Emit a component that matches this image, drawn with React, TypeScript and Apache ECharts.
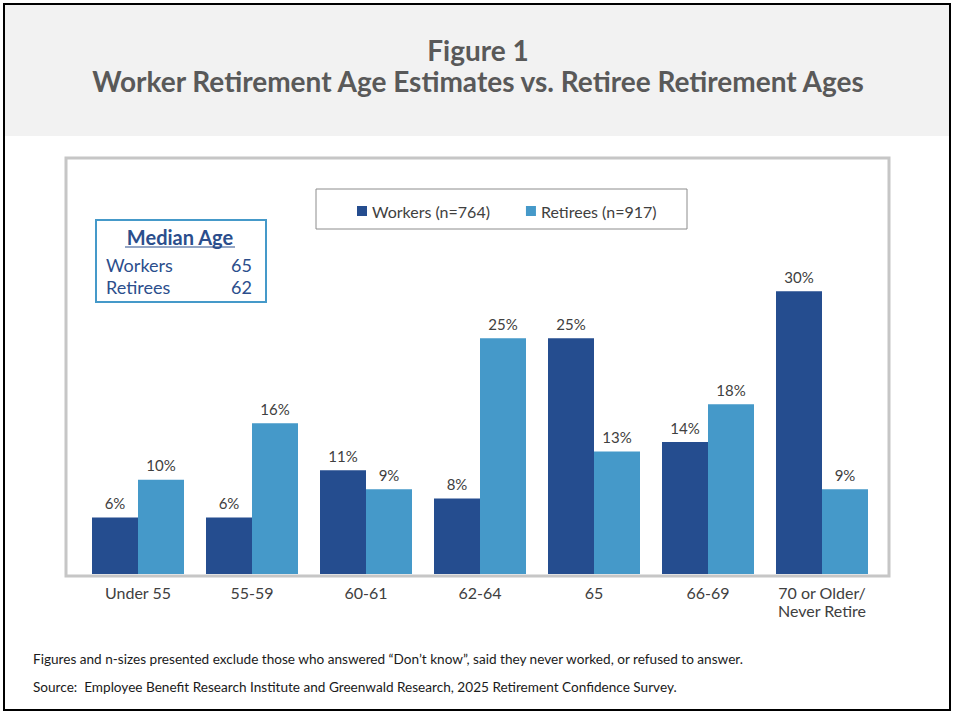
import React, { useEffect, useRef } from 'react';
import * as echarts from 'echarts';

const categories = ['Under 55', '55-59', '60-61', '62-64', '65', '66-69', '70 or Older/\nNever Retire'];
const workers = [6, 6, 11, 8, 25, 14, 30];
const retirees = [10, 16, 9, 25, 13, 18, 9];
const seriesNames = ['Workers (n=764)', 'Retirees (n=917)'];
const medianRows = [
  { label: 'Workers', age: 65 },
  { label: 'Retirees', age: 62 }
];

const FONT = 'Lato, "Open Sans", sans-serif';
const DARK = '#254d8f';
const LIGHT = '#4599c9';
const TEXT = '#404040';

const App = () => {
  const chartRef = useRef<HTMLDivElement | null>(null);

  useEffect(() => {
    if (!chartRef.current) return;
    const chart = echarts.init(chartRef.current, null, { renderer: 'svg' });

    const option = {
      animation: false,
      textStyle: { fontFamily: FONT },
      grid: { left: 81, right: 77, top: 244, bottom: 142 },
      legend: {
        data: seriesNames,
        left: 352,
        top: 198,
        icon: 'rect',
        itemWidth: 10,
        itemHeight: 10,
        itemGap: 36,
        textStyle: { color: TEXT, fontSize: 16, fontFamily: FONT }
      },
      xAxis: {
        type: 'category',
        data: categories,
        axisLine: { show: false },
        axisTick: { show: false },
        axisLabel: {
          color: TEXT,
          fontSize: 16,
          lineHeight: 18,
          margin: 9,
          interval: 0,
          fontFamily: FONT
        }
      },
      yAxis: {
        type: 'value',
        min: 0,
        max: 35,
        show: false,
        splitLine: { show: false }
      },
      series: [
        {
          name: seriesNames[0],
          type: 'bar',
          data: workers,
          barWidth: 46,
          barGap: '0%',
          itemStyle: { color: DARK },
          label: {
            show: true,
            position: 'top',
            distance: 7,
            formatter: '{c}%',
            color: TEXT,
            fontSize: 15,
            fontFamily: FONT
          }
        },
        {
          name: seriesNames[1],
          type: 'bar',
          data: retirees,
          barWidth: 46,
          barGap: '0%',
          itemStyle: { color: LIGHT },
          label: {
            show: true,
            position: 'top',
            distance: 7,
            formatter: '{c}%',
            color: TEXT,
            fontSize: 15,
            fontFamily: FONT
          }
        }
      ],
      graphic: [
        // header band
        {
          type: 'rect',
          z: -10,
          shape: { x: 5, y: 5, width: 945, height: 131 },
          style: { fill: '#f2f2f2' }
        },
        {
          type: 'rect',
          z: 10,
          shape: { x: 4, y: 4, width: 946, height: 706 },
          style: { fill: 'none', stroke: '#000', lineWidth: 2 }
        },
        {
          type: 'text',
          x: 478,
          y: 50,
          style: {
            text: 'Figure 1',
            fill: '#595959',
            font: `bold 28px ${FONT}`,
            align: 'center',
            verticalAlign: 'middle'
          }
        },
        {
          type: 'text',
          x: 478,
          y: 81,
          style: {
            text: 'Worker Retirement Age Estimates vs. Retiree Retirement Ages',
            fill: '#595959',
            font: `bold 28px ${FONT}`,
            align: 'center',
            verticalAlign: 'middle'
          }
        },
        // chart panel
        {
          type: 'rect',
          z: 5,
          shape: { x: 66, y: 158, width: 823, height: 418 },
          style: { fill: 'none', stroke: '#c6c6c6', lineWidth: 3 }
        },
        // legend box
        {
          type: 'rect',
          shape: { x: 316, y: 189, width: 371, height: 40 },
          style: { fill: '#fff', stroke: '#8c8c8c', lineWidth: 1 },
          z: -1
        },
        // median age box
        {
          type: 'rect',
          shape: { x: 96, y: 220, width: 170, height: 82 },
          style: { fill: '#fff', stroke: LIGHT, lineWidth: 2 }
        },
        {
          type: 'text',
          x: 180,
          y: 237,
          style: {
            text: 'Median Age',
            fill: '#2b4e8c',
            font: `bold 20px ${FONT}`,
            align: 'center',
            verticalAlign: 'middle'
          }
        },
        {
          type: 'line',
          shape: { x1: 125, y1: 247, x2: 235, y2: 247 },
          style: { stroke: '#2b4e8c', lineWidth: 1.2 }
        },
        ...medianRows.flatMap((r, i) => [
          {
            type: 'text',
            x: 106,
            y: 265 + i * 22,
            style: {
              text: r.label,
              fill: '#2b4e8c',
              font: `18px ${FONT}`,
              align: 'left',
              verticalAlign: 'middle'
            }
          },
          {
            type: 'text',
            x: 252,
            y: 265 + i * 22,
            style: {
              text: String(r.age),
              fill: '#2b4e8c',
              font: `18px ${FONT}`,
              align: 'right',
              verticalAlign: 'middle'
            }
          }
        ]),
        // footnotes
        {
          type: 'text',
          x: 33,
          y: 659,
          style: {
            text: 'Figures and n-sizes presented exclude those who answered \u201cDon\u2019t know\u201d, said they never worked, or refused to answer.',
            fill: '#1a1a1a',
            font: `13.6px ${FONT}`,
            verticalAlign: 'middle'
          }
        },
        {
          type: 'text',
          x: 33,
          y: 687,
          style: {
            text: 'Source:  Employee Benefit Research Institute and Greenwald Research, 2025 Retirement Confidence Survey.',
            fill: '#1a1a1a',
            font: `13.6px ${FONT}`,
            verticalAlign: 'middle'
          }
        }
      ]
    };

    chart.setOption(option);

    return () => {
      chart.dispose();
    };
  }, []);

  return (
    <div
      ref={chartRef}
      style={{
        position: 'fixed',
        left: 0,
        top: 0,
        width: '956px',
        height: '716px',
        background: '#fff'
      }}
    />
  );
};

export default App;
